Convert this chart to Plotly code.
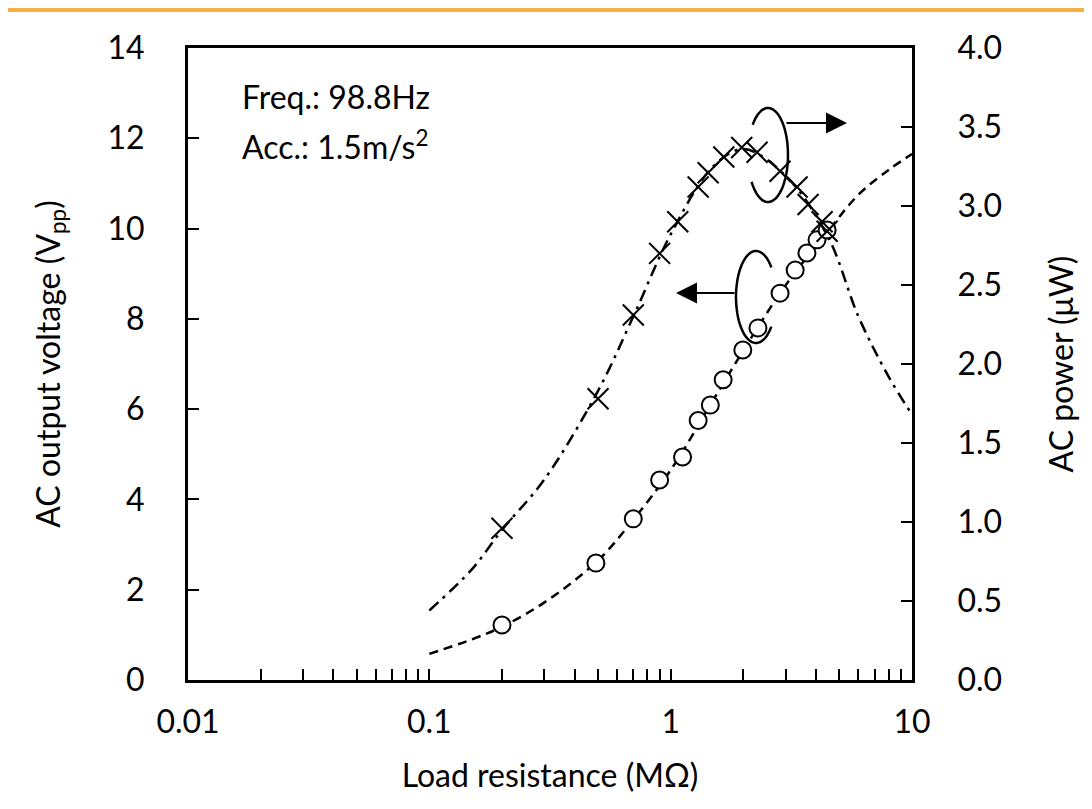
import numpy as np
import plotly.graph_objects as go

r_volt = [0.2, 0.49, 0.7, 0.9, 1.12, 1.3, 1.46, 1.65, 1.99, 2.3, 2.84, 3.28, 3.67, 4.04, 4.45]
v_meas = [1.22, 2.59, 3.57, 4.43, 4.94, 5.75, 6.09, 6.65, 7.31, 7.80, 8.57, 9.08, 9.46, 9.75, 9.97]

r_pow = [0.2, 0.5, 0.7, 0.9, 1.07, 1.3, 1.43, 1.66, 1.97, 2.28, 2.84, 3.34, 3.71, 4.24, 4.45]
p_meas = [0.96, 1.78, 2.31, 2.70, 2.90, 3.12, 3.21, 3.31, 3.37, 3.34, 3.22, 3.12, 3.01, 2.90, 2.84]

# fitted curves
r_fit = [0.1, 0.15, 0.2, 0.3, 0.5, 0.7, 1.0, 1.5, 2.0, 3.0, 4.5, 6.0, 8.0, 10.0]
v_fit = [0.58, 0.9, 1.18, 1.72, 2.65, 3.55, 4.65, 6.2, 7.3, 8.75, 9.95, 10.75, 11.3, 11.65]
p_fit = [0.44, 0.70, 0.95, 1.27, 1.83, 2.3, 2.82, 3.25, 3.36, 3.19, 2.80, 2.30, 1.92, 1.68]

x_ticks = [0.01, 0.1, 1, 10]
x_ticklabels = ['0.01', '0.1', '1', '10']

FONT = 'Lato'
FS = 32
OFF = 8                          # page body margin
W, H = 1092 - OFF, 809 - OFF
L, R, T, B = 188, 912, 48, 680   # plot area, screen pixels


def px(x):
    return (x - L) / (R - L)


def py(y):
    return (B - y) / (B - T)


fig = go.Figure()

fig.add_trace(go.Scatter(x=r_fit, y=v_fit, mode='lines', line_shape='spline',
                         line=dict(color='black', width=2.5, dash='9px,6px'),
                         showlegend=False, hoverinfo='skip'))
fig.add_trace(go.Scatter(x=r_fit, y=p_fit, mode='lines', line_shape='spline', yaxis='y2',
                         line=dict(color='black', width=2.5, dash='12px,6px,3px,6px'),
                         showlegend=False, hoverinfo='skip'))
fig.add_trace(go.Scatter(x=r_volt, y=v_meas, mode='markers',
                         marker=dict(symbol='circle', size=17, color='white',
                                     line=dict(color='black', width=2)),
                         showlegend=False))
fig.add_trace(go.Scatter(x=r_pow, y=p_meas, mode='markers', yaxis='y2',
                         marker=dict(symbol='x-thin', size=21, color='black',
                                     line=dict(color='black', width=2)),
                         showlegend=False))


def arc_path(cx, cy, rx, ry, a0, a1, n=60):
    t = np.radians(np.linspace(a0, a1, n))
    xs = cx + rx * np.cos(t)
    ys = cy - ry * np.sin(t)
    pts = [f'{px(a):.4f},{py(b):.4f}' for a, b in zip(xs, ys)]
    return 'M ' + ' L '.join(pts)


shapes = [
    dict(type='path', xref='paper', yref='paper', path=arc_path(768, 155, 20, 47, 140, -145),
         line=dict(color='black', width=2.5)),
    dict(type='path', xref='paper', yref='paper', path=arc_path(756, 297, 20, 46, 40, 320),
         line=dict(color='black', width=2.5)),
    dict(type='line', xref='paper', yref='paper', x0=px(0), x1=px(1100), y0=py(9.5), y1=py(9.5),
         line=dict(color='#F6AE45', width=5)),
]

annotations = [
    dict(xref='paper', yref='paper', x=px(847), y=py(123), ax=-62, ay=0, text='',
         showarrow=True, arrowhead=2, arrowsize=2.1, arrowwidth=2, arrowcolor='black'),
    dict(xref='paper', yref='paper', x=px(676), y=py(293), ax=60, ay=0, text='',
         showarrow=True, arrowhead=2, arrowsize=2.1, arrowwidth=2, arrowcolor='black'),
    dict(xref='paper', yref='paper', x=px(240), y=py(97), text='Freq.: 98.8Hz',
         showarrow=False, xanchor='left', yanchor='middle', font=dict(size=FS)),
    dict(xref='paper', yref='paper', x=px(240), y=py(145), text='Acc.: 1.5m/s<sup>2</sup>',
         showarrow=False, xanchor='left', yanchor='middle', font=dict(size=FS)),
]

axis_common = dict(showline=True, linecolor='black', linewidth=3, showgrid=False,
                   zeroline=False, ticks='inside', ticklen=11, tickwidth=2, tickcolor='black',
                   tickfont=dict(size=FS, color='black'), automargin=False)

fig.update_layout(
    width=W, height=H,
    margin=dict(l=L - OFF, r=W - (R - OFF), t=T - OFF, b=H - (B - OFF)),
    paper_bgcolor='white', plot_bgcolor='white',
    font=dict(family=FONT, color='black', size=FS),
    shapes=shapes, annotations=annotations,
    xaxis=dict(type='log', range=[-2, 1], tickvals=x_ticks, ticktext=x_ticklabels,
               mirror=True, ticklabelstandoff=12,
               minor=dict(ticks='inside', ticklen=11, tickwidth=2, tickcolor='black', dtick='D1'),
               title=dict(text='Load resistance (MΩ)', font=dict(size=FS), standoff=26),
               **axis_common),
    yaxis=dict(range=[0, 14], dtick=2, ticklabelstandoff=34,
               title=dict(text='AC output voltage (V<sub>pp</sub>)', font=dict(size=FS), standoff=38),
               **axis_common),
    yaxis2=dict(range=[0, 4], dtick=0.5, tickformat='.1f', overlaying='y', side='right',
                ticklabelstandoff=36,
                title=dict(text='AC power (μW)', font=dict(size=FS), standoff=50),
                **axis_common),
)

fig.write_html('out.html')
